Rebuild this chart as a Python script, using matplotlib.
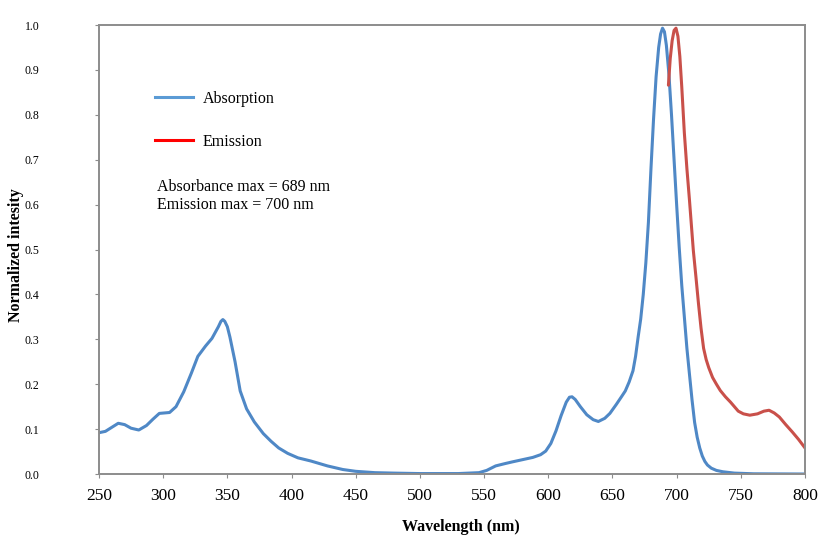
import numpy as np
import matplotlib
matplotlib.use("Agg")
import matplotlib.pyplot as plt
from matplotlib.lines import Line2D

plt.rcParams['font.family'] = ['Liberation Serif', 'DejaVu Serif']

# absorption spectrum (nm, normalized)
abs_nm = [250, 255, 260, 265, 270, 275, 281, 287, 292, 297, 305, 310, 316, 322,
          327, 333, 338, 343, 345, 346.5, 348, 350, 352, 356, 360, 365, 371, 378,
          384, 390, 397, 405, 415, 428, 440, 450, 465, 480, 500, 530, 546, 552,
          559, 566, 572, 580, 588, 594, 598, 602, 606, 610, 614, 616.5, 618.5,
          621, 625, 630, 635, 639, 644, 648, 653, 657, 660, 663, 666, 668, 670,
          672, 674, 676, 678, 680, 682, 684, 686, 687.5, 689, 690.5, 692, 694,
          696, 698, 700, 702, 704, 706, 708, 710, 712, 714, 716, 718, 720, 722,
          724, 727, 731, 736, 745, 760, 800]
abs_val = [0.092, 0.095, 0.104, 0.113, 0.110, 0.102, 0.098, 0.108, 0.122, 0.135,
           0.137, 0.150, 0.183, 0.225, 0.262, 0.285, 0.302, 0.328, 0.340, 0.344,
           0.340, 0.328, 0.305, 0.250, 0.185, 0.145, 0.116, 0.090, 0.073, 0.058,
           0.046, 0.036, 0.029, 0.018, 0.010, 0.006, 0.003, 0.002, 0.001, 0.001,
           0.003, 0.008, 0.018, 0.023, 0.027, 0.032, 0.037, 0.043, 0.051, 0.068,
           0.096, 0.130, 0.160, 0.171, 0.172, 0.166, 0.150, 0.132, 0.121, 0.117,
           0.124, 0.135, 0.155, 0.172, 0.185, 0.205, 0.230, 0.262, 0.305, 0.345,
           0.400, 0.470, 0.560, 0.680, 0.790, 0.885, 0.950, 0.980, 0.993, 0.985,
           0.955, 0.890, 0.800, 0.700, 0.600, 0.505, 0.420, 0.350, 0.280, 0.222,
           0.165, 0.115, 0.082, 0.058, 0.040, 0.028, 0.020, 0.013, 0.008, 0.005,
           0.002, 0.0005, 0.0]

# emission spectrum
em_nm = [693.6, 695, 696.5, 698, 699.5, 701, 702.5, 704, 706, 708, 710, 713, 715,
         717, 719, 721, 723, 725, 728, 731, 734, 738, 742, 745, 748, 752, 757,
         763, 768, 772, 776, 780, 785, 790, 795, 800]
em_val = [0.866, 0.925, 0.965, 0.988, 0.993, 0.975, 0.930, 0.862, 0.760, 0.680,
          0.610, 0.498, 0.440, 0.380, 0.325, 0.280, 0.255, 0.237, 0.215, 0.200,
          0.186, 0.172, 0.160, 0.150, 0.140, 0.134, 0.131, 0.134, 0.140, 0.142,
          0.136, 0.127, 0.110, 0.094, 0.077, 0.058]

x_ticks = [250, 300, 350, 400, 450, 500, 550, 600, 650, 700, 750, 800]
y_ticks = [0.0, 0.1, 0.2, 0.3, 0.4, 0.5, 0.6, 0.7, 0.8, 0.9, 1.0]

fig = plt.figure(figsize=(8.27, 5.37), dpi=100)
ax = fig.add_axes([0.1197, 0.1173, 0.8537, 0.8361])

ax.plot(abs_nm, abs_val, color='#4f88c6', lw=2.2, solid_capstyle='round',
        solid_joinstyle='round')
ax.plot(em_nm, em_val, color='#c9504a', lw=2.2, solid_capstyle='round',
        solid_joinstyle='round')

ax.set_xlim(250, 800)
ax.set_ylim(0, 1.0)
ax.set_xticks(x_ticks)
ax.set_yticks(y_ticks)
ax.set_yticklabels([f"{v:.1f}" for v in y_ticks])
ax.tick_params(axis='x', labelsize=12.5, length=3, color='#8c8c8c', pad=7)
ax.tick_params(axis='y', labelsize=8.5, length=3, color='#8c8c8c', pad=40)

for s in ax.spines.values():
    s.set_color('#8c8c8c')
    s.set_linewidth(1.4)

ax.set_xlabel("Wavelength (nm)", fontsize=11.5, fontweight='bold')
ax.set_ylabel("Normalized intesity", fontsize=11.5, fontweight='bold')
ax.xaxis.set_label_coords(0.513, -0.100)
ax.yaxis.set_label_coords(-0.106, 0.487)

handles = [Line2D([], [], color='#5b9bd5', lw=2.2),
           Line2D([], [], color='#ff0000', lw=2.2)]
ax.legend(handles, ["Absorption", "Emission"], loc='upper left',
          bbox_to_anchor=(0.0793, 0.853), frameon=False, fontsize=11.5,
          handlelength=2.4, handletextpad=0.6, labelspacing=1.68,
          borderpad=0, borderaxespad=0)

ax.text(0.082, 0.658, "Absorbance max = 689 nm\nEmission max = 700 nm",
        transform=ax.transAxes, fontsize=11.5, va='top', ha='left',
        linespacing=1.2)

fig.savefig("out.png", dpi=100)
